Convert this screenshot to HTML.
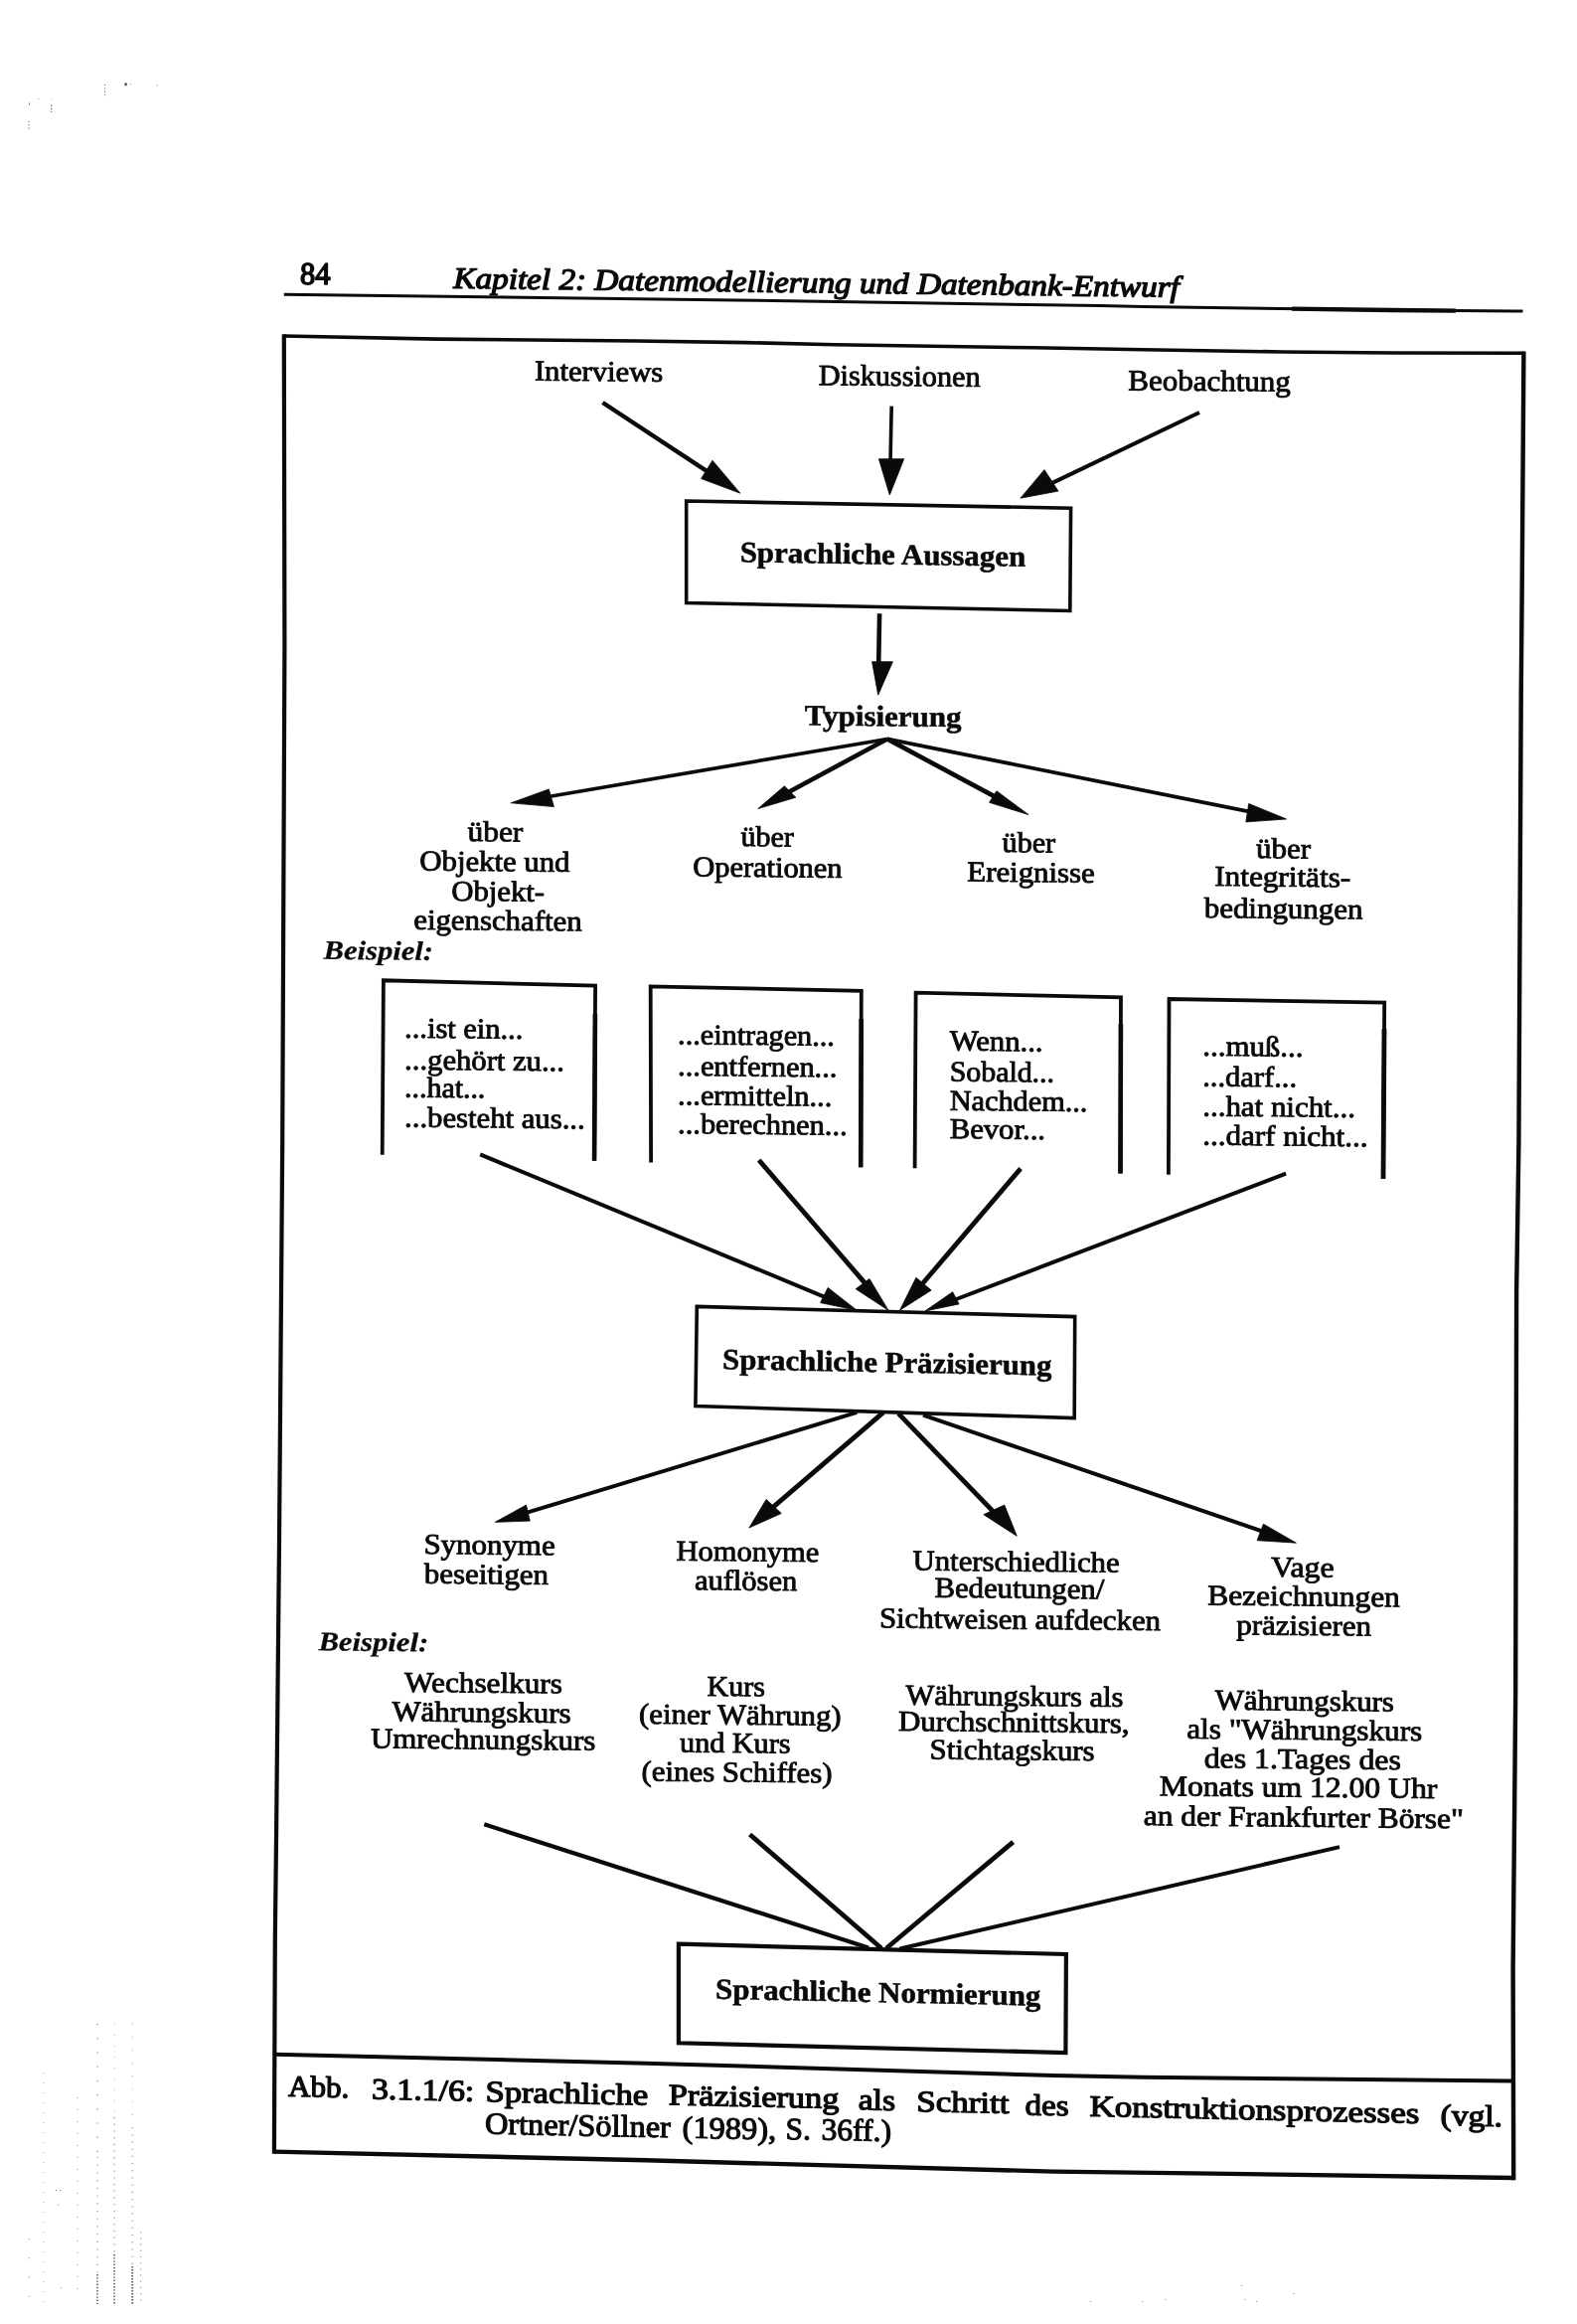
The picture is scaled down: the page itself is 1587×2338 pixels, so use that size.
<!DOCTYPE html>
<html lang="de">
<head>
<meta charset="utf-8">
<title>Abb. 3.1.1/6 Sprachliche Präzisierung</title>
<style>
html, body { margin: 0; padding: 0; background: #ffffff; }
body { width: 1587px; height: 2338px; overflow: hidden; font-family: "Liberation Serif", serif; }
svg { display: block; position: absolute; left: 0; top: 0; will-change: transform; }
svg text { font-family: "Liberation Serif", serif; fill: #0a0a0a; white-space: pre; stroke: #0a0a0a; stroke-width: 0.9px; stroke-linejoin: round; paint-order: stroke fill; }
svg line, svg polyline, svg polygon { stroke: #0a0a0a; stroke-linecap: butt; stroke-linejoin: miter; }
</style>
</head>
<body>
<svg width="1587" height="2338" viewBox="0 0 1587 2338" role="img" aria-label="Abb. 3.1.1/6: Sprachliche Präzisierung als Schritt des Konstruktionsprozesses">
<text transform="matrix(1 0.0100 -0.0060 1 302.0 285.7)" font-size="31.5" font-weight="normal" font-style="normal" textLength="30.4" lengthAdjust="spacingAndGlyphs" style="stroke-width:1.6px">84</text>
<text transform="matrix(1 0.0122 -0.0060 1 456.3 289.8)" font-size="30" font-weight="normal" font-style="italic" textLength="730.5" lengthAdjust="spacingAndGlyphs" style="stroke-width:1.35px">Kapitel 2: Datenmodellierung und Datenbank-Entwurf</text>
<polyline points="285.8,296.3 740.0,301.9 1107.0,307.6 1150.0,308.5 1400.0,312.0 1532.5,313.0" stroke-width="3.0" fill="none"/>
<polyline points="1300.0,310.6 1400.0,312.0 1465.0,312.6" stroke-width="4.4" fill="none"/>
<polyline points="285.8,338.0 440.0,341.1 640.0,343.0 750.0,344.6 840.0,346.8 1040.0,349.8 1150.0,351.7 1290.0,354.0 1400.0,355.0 1533.4,355.3" stroke-width="3.6" fill="none"/>
<polyline points="285.8,336.2 286.4,650.0 284.2,1150.0 281.0,1550.0 278.0,1850.0 276.8,1950.0 275.9,2166.8" stroke-width="4.2" fill="none"/>
<polyline points="1533.4,353.5 1531.6,600.0 1530.7,700.0 1528.4,1150.0 1526.1,1300.0 1525.2,1700.0 1524.3,1800.0 1522.6,1980.0 1523.2,2193.2" stroke-width="4.4" fill="none"/>
<polyline points="275.9,2164.6 650.0,2173.3 1060.0,2184.6 1200.0,2186.4 1523.2,2191.0" stroke-width="4.4" fill="none"/>
<polyline points="276.6,2066.8 650.0,2075.7 1060.0,2088.0 1150.0,2089.8 1521.6,2093.4" stroke-width="4.0" fill="none"/>
<text transform="matrix(1 0.0100 -0.0060 1 537.9 382.6)" font-size="29" font-weight="normal" font-style="normal" textLength="129.3" lengthAdjust="spacingAndGlyphs">Interviews</text>
<text transform="matrix(1 0.0100 -0.0060 1 823.7 387.2)" font-size="29.5" font-weight="normal" font-style="normal" textLength="162.8" lengthAdjust="spacingAndGlyphs">Diskussionen</text>
<text transform="matrix(1 0.0080 -0.0060 1 1135.2 392.4)" font-size="29.5" font-weight="normal" font-style="normal" textLength="163.6" lengthAdjust="spacingAndGlyphs">Beobachtung</text>
<line x1="606.5" y1="405.0" x2="719.1" y2="479.2" stroke-width="4.4"/>
<polygon points="744.9,496.2 717.0,463.2 705.6,481.5" fill="#0a0a0a" stroke="#0a0a0a" stroke-width="0.8"/>
<line x1="897.2" y1="408.6" x2="895.9" y2="470.8" stroke-width="3.6"/>
<polygon points="895.3,498.0 884.4,461.7 909.7,461.7" fill="#0a0a0a" stroke="#0a0a0a" stroke-width="0.8"/>
<line x1="1207.0" y1="415.0" x2="1051.1" y2="489.6" stroke-width="4.0"/>
<polygon points="1026.9,501.2 1051.0,472.6 1065.0,494.1" fill="#0a0a0a" stroke="#0a0a0a" stroke-width="0.8"/>
<polygon points="690.7,504.0 1077.6,511.2 1076.8,614.5 690.7,606.5" stroke-width="3.6" fill="none"/>
<text transform="matrix(1 0.0160 -0.0060 1 744.7 565.2)" font-size="29.5" font-weight="bold" font-style="normal" textLength="287.4" lengthAdjust="spacingAndGlyphs" style="stroke-width:0.55px">Sprachliche Aussagen</text>
<line x1="885.1" y1="617.2" x2="884.1" y2="674.0" stroke-width="4.6"/>
<polygon points="883.7,699.2 877.6,665.7 898.4,665.7" fill="#0a0a0a" stroke="#0a0a0a" stroke-width="0.8"/>
<text transform="matrix(1 0.0100 -0.0060 1 809.7 729.6)" font-size="29.5" font-weight="bold" font-style="normal" textLength="157.9" lengthAdjust="spacingAndGlyphs" style="stroke-width:0.55px">Typisierung</text>
<line x1="892.8" y1="743.4" x2="544.5" y2="802.7" stroke-width="3.6"/>
<polygon points="514.2,807.8 552.3,793.9 557.4,811.6" fill="#0a0a0a" stroke="#0a0a0a" stroke-width="0.8"/>
<line x1="892.8" y1="743.4" x2="786.9" y2="800.6" stroke-width="4.6"/>
<polygon points="762.8,813.6 789.4,790.8 800.9,802.2" fill="#0a0a0a" stroke="#0a0a0a" stroke-width="0.8"/>
<line x1="892.8" y1="743.4" x2="1008.5" y2="805.4" stroke-width="4.6"/>
<polygon points="1035.0,819.6 1002.9,795.7 995.6,807.3" fill="#0a0a0a" stroke="#0a0a0a" stroke-width="0.8"/>
<line x1="892.8" y1="743.4" x2="1265.3" y2="818.1" stroke-width="3.8"/>
<polygon points="1294.6,824.0 1256.7,808.5 1253.8,826.9" fill="#0a0a0a" stroke="#0a0a0a" stroke-width="0.8"/>
<text transform="matrix(1 0.0100 -0.0060 1 470.5 846.0)" font-size="29" font-weight="normal" font-style="normal" textLength="55.8" lengthAdjust="spacingAndGlyphs">über</text>
<text transform="matrix(1 0.0100 -0.0060 1 422.3 875.5)" font-size="29" font-weight="normal" font-style="normal" textLength="151.2" lengthAdjust="spacingAndGlyphs">Objekte und</text>
<text transform="matrix(1 0.0100 -0.0060 1 454.3 905.9)" font-size="29" font-weight="normal" font-style="normal" textLength="93.8" lengthAdjust="spacingAndGlyphs">Objekt-</text>
<text transform="matrix(1 0.0100 -0.0060 1 416.2 934.8)" font-size="29" font-weight="normal" font-style="normal" textLength="169.4" lengthAdjust="spacingAndGlyphs">eigenschaften</text>
<text transform="matrix(1 0.0100 -0.0060 1 745.5 851.1)" font-size="29" font-weight="normal" font-style="normal" textLength="53.3" lengthAdjust="spacingAndGlyphs">über</text>
<text transform="matrix(1 0.0100 -0.0060 1 697.3 881.5)" font-size="29" font-weight="normal" font-style="normal" textLength="150.2" lengthAdjust="spacingAndGlyphs">Operationen</text>
<text transform="matrix(1 0.0100 -0.0060 1 1008.6 857.0)" font-size="29" font-weight="normal" font-style="normal" textLength="53.4" lengthAdjust="spacingAndGlyphs">über</text>
<text transform="matrix(1 0.0100 -0.0060 1 973.3 886.5)" font-size="29" font-weight="normal" font-style="normal" textLength="128.4" lengthAdjust="spacingAndGlyphs">Ereignisse</text>
<text transform="matrix(1 0.0100 -0.0060 1 1264.1 863.0)" font-size="29" font-weight="normal" font-style="normal" textLength="54.9" lengthAdjust="spacingAndGlyphs">über</text>
<text transform="matrix(1 0.0100 -0.0060 1 1222.2 891.0)" font-size="29" font-weight="normal" font-style="normal" textLength="137.0" lengthAdjust="spacingAndGlyphs">Integritäts-</text>
<text transform="matrix(1 0.0100 -0.0060 1 1211.7 922.9)" font-size="29" font-weight="normal" font-style="normal" textLength="159.7" lengthAdjust="spacingAndGlyphs">bedingungen</text>
<text transform="matrix(1 0.0100 -0.0060 1 325.6 964.8)" font-size="27" font-weight="bold" font-style="italic" textLength="110.4" lengthAdjust="spacingAndGlyphs" style="stroke-width:0.25px">Beispiel:</text>
<polyline points="384.7,1161.8 385.9,986.3 599.1,991.6 598.1,1167.7" stroke-width="3.8" fill="none"/>
<polyline points="655.1,1169.4 654.7,992.4 866.8,996.8 866.2,1174.3" stroke-width="3.8" fill="none"/>
<polyline points="920.6,1175.2 921.6,998.6 1128.0,1003.4 1127.5,1180.5" stroke-width="3.8" fill="none"/>
<polyline points="1175.9,1181.8 1176.5,1005.0 1393.2,1008.6 1392.0,1186.1" stroke-width="3.8" fill="none"/>
<line x1="598.9" y1="1020.0" x2="598.1" y2="1167.7" stroke-width="4.6"/>
<line x1="866.7" y1="1025.0" x2="866.2" y2="1174.3" stroke-width="4.6"/>
<line x1="1127.9" y1="1030.0" x2="1127.5" y2="1180.5" stroke-width="4.6"/>
<line x1="1393.0" y1="1035.0" x2="1392.0" y2="1186.1" stroke-width="4.8"/>
<text transform="matrix(1 0.0100 -0.0060 1 407.1 1043.7)" font-size="29" font-weight="normal" font-style="normal" textLength="119.2" lengthAdjust="spacingAndGlyphs">...ist ein...</text>
<text transform="matrix(1 0.0100 -0.0060 1 407.1 1075.7)" font-size="29" font-weight="normal" font-style="normal" textLength="160.8" lengthAdjust="spacingAndGlyphs">...gehört zu...</text>
<text transform="matrix(1 0.0100 -0.0060 1 407.1 1103.6)" font-size="29" font-weight="normal" font-style="normal" textLength="81.2" lengthAdjust="spacingAndGlyphs">...hat...</text>
<text transform="matrix(1 0.0100 -0.0060 1 407.1 1133.5)" font-size="29" font-weight="normal" font-style="normal" textLength="181.6" lengthAdjust="spacingAndGlyphs">...besteht aus...</text>
<text transform="matrix(1 0.0100 -0.0060 1 682.1 1050.3)" font-size="29" font-weight="normal" font-style="normal" textLength="157.8" lengthAdjust="spacingAndGlyphs">...eintragen...</text>
<text transform="matrix(1 0.0100 -0.0060 1 682.1 1081.8)" font-size="29" font-weight="normal" font-style="normal" textLength="160.3" lengthAdjust="spacingAndGlyphs">...entfernen...</text>
<text transform="matrix(1 0.0100 -0.0060 1 682.1 1111.2)" font-size="29" font-weight="normal" font-style="normal" textLength="155.2" lengthAdjust="spacingAndGlyphs">...ermitteln...</text>
<text transform="matrix(1 0.0100 -0.0060 1 682.1 1140.1)" font-size="29" font-weight="normal" font-style="normal" textLength="170.5" lengthAdjust="spacingAndGlyphs">...berechnen...</text>
<text transform="matrix(1 0.0100 -0.0060 1 955.7 1056.6)" font-size="29" font-weight="normal" font-style="normal" textLength="93.8" lengthAdjust="spacingAndGlyphs">Wenn...</text>
<text transform="matrix(1 0.0100 -0.0060 1 955.7 1087.5)" font-size="29" font-weight="normal" font-style="normal" textLength="105.3" lengthAdjust="spacingAndGlyphs">Sobald...</text>
<text transform="matrix(1 0.0100 -0.0060 1 955.7 1116.7)" font-size="29" font-weight="normal" font-style="normal" textLength="138.7" lengthAdjust="spacingAndGlyphs">Nachdem...</text>
<text transform="matrix(1 0.0100 -0.0060 1 955.7 1145.1)" font-size="29" font-weight="normal" font-style="normal" textLength="96.3" lengthAdjust="spacingAndGlyphs">Bevor...</text>
<text transform="matrix(1 0.0100 -0.0060 1 1210.2 1061.8)" font-size="29" font-weight="normal" font-style="normal" textLength="101.3" lengthAdjust="spacingAndGlyphs">...muß...</text>
<text transform="matrix(1 0.0100 -0.0060 1 1210.2 1092.5)" font-size="29" font-weight="normal" font-style="normal" textLength="94.8" lengthAdjust="spacingAndGlyphs">...darf...</text>
<text transform="matrix(1 0.0100 -0.0060 1 1210.2 1122.4)" font-size="29" font-weight="normal" font-style="normal" textLength="153.7" lengthAdjust="spacingAndGlyphs">...hat nicht...</text>
<text transform="matrix(1 0.0100 -0.0060 1 1210.2 1151.6)" font-size="29" font-weight="normal" font-style="normal" textLength="166.2" lengthAdjust="spacingAndGlyphs">...darf nicht...</text>
<line x1="483.2" y1="1161.4" x2="837.2" y2="1307.8" stroke-width="4.0"/>
<polygon points="862.3,1318.2 833.2,1295.4 825.6,1310.6" fill="#0a0a0a" stroke="#0a0a0a" stroke-width="0.8"/>
<line x1="763.7" y1="1167.0" x2="875.8" y2="1297.1" stroke-width="4.8"/>
<polygon points="894.0,1318.2 875.0,1286.5 861.1,1296.7" fill="#0a0a0a" stroke="#0a0a0a" stroke-width="0.8"/>
<line x1="1027.1" y1="1175.6" x2="922.9" y2="1297.8" stroke-width="4.8"/>
<polygon points="905.5,1318.2 921.9,1285.3 937.2,1298.0" fill="#0a0a0a" stroke="#0a0a0a" stroke-width="0.8"/>
<line x1="1294.1" y1="1180.6" x2="954.5" y2="1310.0" stroke-width="4.0"/>
<polygon points="930.8,1319.0 958.7,1299.7 965.1,1311.9" fill="#0a0a0a" stroke="#0a0a0a" stroke-width="0.8"/>
<polygon points="701.3,1314.4 1081.7,1324.6 1081.2,1426.6 699.9,1414.5" stroke-width="3.6" fill="none"/>
<text transform="matrix(1 0.0190 -0.0060 1 727.0 1377.2)" font-size="29.5" font-weight="bold" font-style="normal" textLength="331.4" lengthAdjust="spacingAndGlyphs" style="stroke-width:0.55px">Sprachliche Präzisierung</text>
<line x1="862.4" y1="1420.9" x2="523.0" y2="1523.8" stroke-width="4.0"/>
<polygon points="498.3,1531.3 529.5,1514.1 533.3,1530.1" fill="#0a0a0a" stroke="#0a0a0a" stroke-width="0.8"/>
<line x1="889.0" y1="1420.9" x2="772.6" y2="1520.9" stroke-width="4.8"/>
<polygon points="753.9,1537.0 771.1,1508.4 786.3,1522.5" fill="#0a0a0a" stroke="#0a0a0a" stroke-width="0.8"/>
<line x1="904.2" y1="1422.1" x2="1005.1" y2="1526.4" stroke-width="4.8"/>
<polygon points="1023.3,1545.3 989.8,1523.7 1010.8,1514.1" fill="#0a0a0a" stroke="#0a0a0a" stroke-width="0.8"/>
<line x1="929.0" y1="1423.6" x2="1277.7" y2="1543.0" stroke-width="4.0"/>
<polygon points="1304.4,1552.2 1271.4,1533.2 1265.1,1549.7" fill="#0a0a0a" stroke="#0a0a0a" stroke-width="0.8"/>
<text transform="matrix(1 0.0100 -0.0060 1 426.4 1563.0)" font-size="29" font-weight="normal" font-style="normal" textLength="132.2" lengthAdjust="spacingAndGlyphs">Synonyme</text>
<text transform="matrix(1 0.0100 -0.0060 1 426.8 1592.7)" font-size="29" font-weight="normal" font-style="normal" textLength="125.2" lengthAdjust="spacingAndGlyphs">beseitigen</text>
<text transform="matrix(1 0.0100 -0.0060 1 680.6 1569.7)" font-size="29" font-weight="normal" font-style="normal" textLength="143.6" lengthAdjust="spacingAndGlyphs">Homonyme</text>
<text transform="matrix(1 0.0100 -0.0060 1 698.9 1599.2)" font-size="29" font-weight="normal" font-style="normal" textLength="103.3" lengthAdjust="spacingAndGlyphs">auflösen</text>
<text transform="matrix(1 0.0100 -0.0060 1 918.6 1579.6)" font-size="29" font-weight="normal" font-style="normal" textLength="208.0" lengthAdjust="spacingAndGlyphs">Unterschiedliche</text>
<text transform="matrix(1 0.0100 -0.0060 1 940.4 1606.7)" font-size="29" font-weight="normal" font-style="normal" textLength="170.9" lengthAdjust="spacingAndGlyphs">Bedeutungen/</text>
<text transform="matrix(1 0.0100 -0.0060 1 884.9 1637.3)" font-size="29" font-weight="normal" font-style="normal" textLength="283.1" lengthAdjust="spacingAndGlyphs">Sichtweisen aufdecken</text>
<text transform="matrix(1 0.0100 -0.0060 1 1279.1 1586.0)" font-size="29" font-weight="normal" font-style="normal" textLength="63.4" lengthAdjust="spacingAndGlyphs">Vage</text>
<text transform="matrix(1 0.0100 -0.0060 1 1215.2 1614.4)" font-size="29" font-weight="normal" font-style="normal" textLength="193.6" lengthAdjust="spacingAndGlyphs">Bezeichnungen</text>
<text transform="matrix(1 0.0100 -0.0060 1 1244.2 1644.3)" font-size="29" font-weight="normal" font-style="normal" textLength="135.7" lengthAdjust="spacingAndGlyphs">präzisieren</text>
<text transform="matrix(1 0.0100 -0.0060 1 320.4 1660.3)" font-size="27" font-weight="bold" font-style="italic" textLength="110.8" lengthAdjust="spacingAndGlyphs" style="stroke-width:0.25px">Beispiel:</text>
<text transform="matrix(1 0.0100 -0.0060 1 407.1 1701.9)" font-size="29" font-weight="normal" font-style="normal" textLength="158.8" lengthAdjust="spacingAndGlyphs">Wechselkurs</text>
<text transform="matrix(1 0.0100 -0.0060 1 394.4 1731.3)" font-size="29" font-weight="normal" font-style="normal" textLength="180.1" lengthAdjust="spacingAndGlyphs">Währungskurs</text>
<text transform="matrix(1 0.0100 -0.0060 1 373.0 1758.4)" font-size="29" font-weight="normal" font-style="normal" textLength="226.3" lengthAdjust="spacingAndGlyphs">Umrechnungskurs</text>
<text transform="matrix(1 0.0100 -0.0060 1 711.5 1705.9)" font-size="29" font-weight="normal" font-style="normal" textLength="58.3" lengthAdjust="spacingAndGlyphs">Kurs</text>
<text transform="matrix(1 0.0100 -0.0060 1 643.1 1733.8)" font-size="29" font-weight="normal" font-style="normal" textLength="203.5" lengthAdjust="spacingAndGlyphs">(einer Währung)</text>
<text transform="matrix(1 0.0100 -0.0060 1 684.1 1762.5)" font-size="29" font-weight="normal" font-style="normal" textLength="111.3" lengthAdjust="spacingAndGlyphs">und Kurs</text>
<text transform="matrix(1 0.0100 -0.0060 1 645.6 1791.5)" font-size="29" font-weight="normal" font-style="normal" textLength="191.9" lengthAdjust="spacingAndGlyphs">(eines Schiffes)</text>
<text transform="matrix(1 0.0100 -0.0060 1 911.4 1714.8)" font-size="29" font-weight="normal" font-style="normal" textLength="219.0" lengthAdjust="spacingAndGlyphs">Währungskurs als</text>
<text transform="matrix(1 0.0100 -0.0060 1 904.0 1741.0)" font-size="29" font-weight="normal" font-style="normal" textLength="232.5" lengthAdjust="spacingAndGlyphs">Durchschnittskurs,</text>
<text transform="matrix(1 0.0100 -0.0060 1 935.6 1769.4)" font-size="29" font-weight="normal" font-style="normal" textLength="166.0" lengthAdjust="spacingAndGlyphs">Stichtagskurs</text>
<text transform="matrix(1 0.0100 -0.0060 1 1222.7 1719.8)" font-size="29" font-weight="normal" font-style="normal" textLength="180.2" lengthAdjust="spacingAndGlyphs">Währungskurs</text>
<text transform="matrix(1 0.0100 -0.0060 1 1194.2 1748.8)" font-size="29" font-weight="normal" font-style="normal" textLength="237.0" lengthAdjust="spacingAndGlyphs">als &quot;Währungskurs</text>
<text transform="matrix(1 0.0100 -0.0060 1 1211.7 1778.2)" font-size="29" font-weight="normal" font-style="normal" textLength="198.1" lengthAdjust="spacingAndGlyphs">des 1.Tages des</text>
<text transform="matrix(1 0.0100 -0.0060 1 1166.8 1806.2)" font-size="29" font-weight="normal" font-style="normal" textLength="279.5" lengthAdjust="spacingAndGlyphs">Monats um 12.00 Uhr</text>
<text transform="matrix(1 0.0100 -0.0060 1 1150.8 1836.1)" font-size="29" font-weight="normal" font-style="normal" textLength="321.9" lengthAdjust="spacingAndGlyphs">an der Frankfurter Börse&quot;</text>
<line x1="487.3" y1="1835.3" x2="874.0" y2="1959.5" stroke-width="4.2"/>
<line x1="754.6" y1="1845.5" x2="887.0" y2="1960.0" stroke-width="4.8"/>
<line x1="1019.6" y1="1853.1" x2="892.0" y2="1960.0" stroke-width="4.8"/>
<line x1="1348.0" y1="1858.1" x2="905.5" y2="1960.5" stroke-width="4.0"/>
<polygon points="682.9,1955.7 1072.9,1966.0 1072.4,2065.1 682.9,2055.3" stroke-width="4.2" fill="none"/>
<text transform="matrix(1 0.0210 -0.0060 1 720.0 2010.7)" font-size="29.5" font-weight="bold" font-style="normal" textLength="327.3" lengthAdjust="spacingAndGlyphs" style="stroke-width:0.55px">Sprachliche Normierung</text>
<text transform="matrix(1 0.0220 -0.0060 1 290.0 2108.8)" font-size="30" font-weight="normal" font-style="normal" textLength="61.2" lengthAdjust="spacingAndGlyphs" style="stroke-width:1.25px">Abb.</text>
<text transform="matrix(1 0.0220 -0.0060 1 373.9 2111.4)" font-size="30" font-weight="normal" font-style="normal" textLength="103.3" lengthAdjust="spacingAndGlyphs" style="stroke-width:1.25px">3.1.1/6:</text>
<text transform="matrix(1 0.0220 -0.0060 1 488.4 2114.1)" font-size="30" font-weight="normal" font-style="normal" textLength="163.8" lengthAdjust="spacingAndGlyphs" style="stroke-width:1.25px">Sprachliche</text>
<text transform="matrix(1 0.0220 -0.0060 1 672.8 2117.3)" font-size="30" font-weight="normal" font-style="normal" textLength="171.5" lengthAdjust="spacingAndGlyphs" style="stroke-width:1.25px">Präzisierung</text>
<text transform="matrix(1 0.0220 -0.0060 1 863.7 2122.1)" font-size="30" font-weight="normal" font-style="normal" textLength="37.3" lengthAdjust="spacingAndGlyphs" style="stroke-width:1.25px">als</text>
<text transform="matrix(1 0.0220 -0.0060 1 922.3 2123.9)" font-size="30" font-weight="normal" font-style="normal" textLength="93.2" lengthAdjust="spacingAndGlyphs" style="stroke-width:1.25px">Schritt</text>
<text transform="matrix(1 0.0220 -0.0060 1 1031.5 2127.4)" font-size="30" font-weight="normal" font-style="normal" textLength="44.0" lengthAdjust="spacingAndGlyphs" style="stroke-width:1.25px">des</text>
<text transform="matrix(1 0.0220 -0.0060 1 1096.5 2128.7)" font-size="30" font-weight="normal" font-style="normal" textLength="331.8" lengthAdjust="spacingAndGlyphs" style="stroke-width:1.25px">Konstruktionsprozesses</text>
<text transform="matrix(1 0.0220 -0.0060 1 1449.6 2137.8)" font-size="30" font-weight="normal" font-style="normal" textLength="62.4" lengthAdjust="spacingAndGlyphs" style="stroke-width:1.25px">(vgl.</text>
<text transform="matrix(1 0.0200 -0.0060 1 487.9 2146.6)" font-size="31" font-weight="normal" font-style="normal" textLength="186.9" lengthAdjust="spacingAndGlyphs" style="stroke-width:1.1px">Ortner/Söllner</text>
<text transform="matrix(1 0.0200 -0.0060 1 686.6 2150.6)" font-size="31" font-weight="normal" font-style="normal" textLength="94.6" lengthAdjust="spacingAndGlyphs" style="stroke-width:1.1px">(1989),</text>
<text transform="matrix(1 0.0200 -0.0060 1 790.5 2152.0)" font-size="31" font-weight="normal" font-style="normal" textLength="25.3" lengthAdjust="spacingAndGlyphs" style="stroke-width:1.1px">S.</text>
<text transform="matrix(1 0.0200 -0.0060 1 826.5 2152.6)" font-size="31" font-weight="normal" font-style="normal" textLength="70.5" lengthAdjust="spacingAndGlyphs" style="stroke-width:1.1px">36ff.)</text>
<line x1="105.6" y1="85.0" x2="105.6" y2="98.0" stroke-width="1.0" stroke-dasharray="1 2.4" opacity="0.7"/>
<rect x="125.5" y="83.5" width="2.2" height="2.6" fill="#0a0a0a" opacity="0.8"/>
<rect x="131.0" y="84.0" width="1" height="1" fill="#0a0a0a" opacity="0.5"/>
<rect x="157.5" y="85.2" width="1.4" height="1" fill="#0a0a0a" opacity="0.4"/>
<rect x="29.0" y="103.5" width="1" height="2" fill="#0a0a0a" opacity="0.6"/>
<line x1="51.7" y1="105.5" x2="51.7" y2="113.0" stroke-width="1.0" stroke-dasharray="1.6 1.6" opacity="0.7"/>
<line x1="29.0" y1="122.0" x2="29.0" y2="130.0" stroke-width="1.0" stroke-dasharray="1.2 2" opacity="0.7"/>
<rect x="38.2" y="99.0" width="1" height="1" fill="#0a0a0a" opacity="0.4"/>
<rect x="52.2" y="99.0" width="1" height="1" fill="#0a0a0a" opacity="0.3"/>
<line x1="44.1" y1="2085.0" x2="44.1" y2="2316.0" stroke-width="1.0" stroke-dasharray="1 9" opacity="0.35"/>
<line x1="78.0" y1="2110.0" x2="78.0" y2="2314.0" stroke-width="1.0" stroke-dasharray="1 11" opacity="0.45"/>
<line x1="98.0" y1="2036.0" x2="98.0" y2="2170.0" stroke-width="1.0" stroke-dasharray="1.2 13" opacity="0.55"/>
<line x1="98.0" y1="2170.0" x2="98.0" y2="2288.0" stroke-width="1.0" stroke-dasharray="1.2 6.5" opacity="0.5"/>
<line x1="98.0" y1="2288.0" x2="98.0" y2="2318.0" stroke-width="1.8" stroke-dasharray="1.4 1.8" opacity="0.6"/>
<line x1="115.1" y1="2036.0" x2="115.1" y2="2130.0" stroke-width="1.0" stroke-dasharray="1 10" opacity="0.3"/>
<line x1="115.1" y1="2130.0" x2="115.1" y2="2268.0" stroke-width="1.0" stroke-dasharray="1.2 5.5" opacity="0.55"/>
<line x1="115.1" y1="2268.0" x2="115.1" y2="2318.0" stroke-width="1.8" stroke-dasharray="1.4 1.8" opacity="0.6"/>
<line x1="133.2" y1="2036.0" x2="133.2" y2="2140.0" stroke-width="1.0" stroke-dasharray="1 12" opacity="0.3"/>
<line x1="133.2" y1="2140.0" x2="133.2" y2="2280.0" stroke-width="1.0" stroke-dasharray="1.2 6" opacity="0.55"/>
<line x1="133.2" y1="2280.0" x2="133.2" y2="2318.0" stroke-width="2.0" stroke-dasharray="1.4 1.6" opacity="0.65"/>
<line x1="141.7" y1="2245.0" x2="141.7" y2="2318.0" stroke-width="1.0" stroke-dasharray="1.2 5" opacity="0.5"/>
<line x1="29.3" y1="2252.0" x2="29.3" y2="2316.0" stroke-width="1.0" stroke-dasharray="1.2 18" opacity="0.5"/>
<rect x="56.0" y="2203.0" width="1" height="1" fill="#0a0a0a" opacity="0.6"/>
<rect x="60.0" y="2203.0" width="1" height="1" fill="#0a0a0a" opacity="0.5"/>
<rect x="58.2" y="2217.5" width="1" height="1" fill="#0a0a0a" opacity="0.6"/>
<rect x="61.0" y="2301.0" width="1" height="1" fill="#0a0a0a" opacity="0.4"/>
<rect x="1097.0" y="2315.0" width="1.2" height="1.0" fill="#0a0a0a" opacity="0.45"/>
<rect x="1149.0" y="2315.0" width="1.2" height="1.0" fill="#0a0a0a" opacity="0.45"/>
<rect x="1172.0" y="2313.0" width="1.2" height="1.0" fill="#0a0a0a" opacity="0.45"/>
<rect x="1249.0" y="2299.0" width="1.2" height="1.0" fill="#0a0a0a" opacity="0.45"/>
<rect x="1252.0" y="2313.0" width="1.2" height="1.0" fill="#0a0a0a" opacity="0.45"/>
<rect x="1264.0" y="2315.0" width="1.2" height="1.0" fill="#0a0a0a" opacity="0.45"/>
<rect x="1301.5" y="2307.0" width="1.2" height="1.0" fill="#0a0a0a" opacity="0.45"/>
</svg>
</body>
</html>
